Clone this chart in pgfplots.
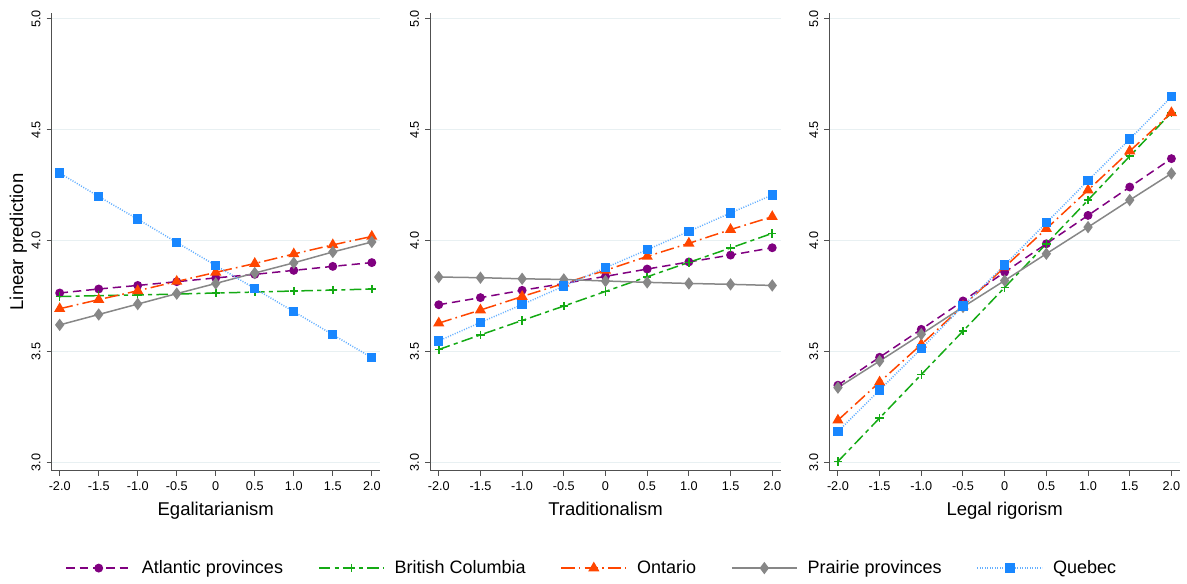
\documentclass[border=0pt]{standalone}
\usepackage{pgfplots}
\pgfplotsset{compat=1.18}
\usepackage{fontspec}
\setmainfont{Liberation Sans}
\definecolor{cAtl}{RGB}{128,0,128}
\definecolor{cBC}{RGB}{20,170,20}
\definecolor{cOn}{RGB}{255,70,0}
\definecolor{cPr}{RGB}{135,135,135}
\definecolor{cQu}{RGB}{25,135,255}
\definecolor{cQuL}{RGB}{100,175,255}
\definecolor{gridc}{RGB}{232,240,242}
\definecolor{axc}{RGB}{80,80,80}

\pgfplotstableread{
x atl bc on pr qu
-2.0 3.764 3.748 3.693 3.620 4.305
-1.5 3.782 3.752 3.734 3.667 4.199
-1.0 3.798 3.755 3.774 3.714 4.097
-0.5 3.815 3.759 3.816 3.761 3.992
0.0 3.832 3.764 3.857 3.807 3.888
0.5 3.848 3.768 3.897 3.854 3.784
1.0 3.866 3.773 3.940 3.900 3.680
1.5 3.884 3.777 3.981 3.949 3.576
2.0 3.901 3.782 4.019 3.994 3.472
}\egal
\pgfplotstableread{
x atl bc on pr qu
-2.0 3.711 3.509 3.628 3.836 3.548
-1.5 3.743 3.575 3.687 3.833 3.631
-1.0 3.776 3.640 3.748 3.828 3.712
-0.5 3.807 3.705 3.807 3.825 3.795
0.0 3.839 3.771 3.866 3.818 3.878
0.5 3.872 3.837 3.929 3.812 3.959
1.0 3.904 3.902 3.988 3.807 4.042
1.5 3.935 3.967 4.050 3.803 4.125
2.0 3.968 4.033 4.108 3.798 4.206
}\trad
\pgfplotstableread{
x atl bc on pr qu
-2.0 3.348 3.004 3.190 3.337 3.139
-1.5 3.474 3.200 3.362 3.457 3.326
-1.0 3.600 3.396 3.532 3.578 3.513
-0.5 3.728 3.592 3.705 3.701 3.705
0.0 3.858 3.789 3.881 3.820 3.890
0.5 3.986 3.986 4.054 3.941 4.081
1.0 4.114 4.183 4.228 4.061 4.271
1.5 4.242 4.381 4.404 4.183 4.458
2.0 4.370 4.577 4.577 4.303 4.649
}\legal

\pgfplotsset{
  panel/.style={
    scale only axis,
    height=274.8pt,
    xmin=-2.105, xmax=2.105,
    ymin=2.961, ymax=5.027,
    axis lines*=left,
    axis line style={color=axc, line width=0.6pt},
    tick style={color=axc, line width=0.6pt},
    tick align=outside,
    major tick length=3pt,
    xtick={-2,-1.5,-1,-0.5,0,0.5,1,1.5,2},
    xticklabels={-2.0,-1.5,-1.0,-0.5,0,0.5,1.0,1.5,2.0},
    ytick={3,3.5,4,4.5,5},
    yticklabels={3.0,3.5,4.0,4.5,5.0},
    ticklabel style={font=\fontsize{7.6}{9}\selectfont},
    yticklabel style={rotate=90, anchor=south},
    ymajorgrids,
    grid style={color=gridc, line width=0.6pt},
    label style={font=\fontsize{11.1}{13}\selectfont},
    legend image code/.code={\draw[mark repeat=2,mark phase=2,##1] plot coordinates {(0pt,0pt) (19.5pt,0pt) (39pt,0pt)};},
  },
  sAtl/.style={color=cAtl, line width=0.9pt, dash pattern=on 5pt off 3pt, mark=*, mark size=2.2pt, mark options={solid, fill=cAtl}},
  sBC/.style={color=cBC, line width=0.9pt, dash pattern=on 7pt off 2.5pt on 2.5pt off 2.5pt, mark=+, mark size=2.5pt, mark options={solid}},
  sOn/.style={color=cOn, line width=0.9pt, dash pattern=on 8pt off 2.5pt on 1pt off 2.5pt, mark=triangle*, mark size=3pt, mark options={solid, fill=cOn}},
  sPr/.style={color=cPr, line width=0.9pt, solid, mark=diamond*, mark size=3pt, mark options={solid, fill=cPr}},
  sQu/.style={color=cQuL, line width=0.9pt, dash pattern=on 0.6pt off 0.9pt, mark=square*, mark size=2.35pt, mark options={solid, fill=cQu, draw=cQu}},
}

\begin{document}
\begin{tikzpicture}
\path[use as bounding box] (0,0) rectangle (712.2pt,350.4pt);

\begin{axis}[panel, at={(30.9pt,67.8pt)}, anchor=south west, width=197.1pt,
  xlabel={Egalitarianism}, ylabel={Linear prediction}, ylabel shift=-4pt]
\addplot[sAtl] table[x=x,y=atl]{\egal};
\addplot[sBC] table[x=x,y=bc]{\egal};
\addplot[sOn] table[x=x,y=on]{\egal};
\addplot[sPr] table[x=x,y=pr]{\egal};
\addplot[sQu] table[x=x,y=qu]{\egal};
\end{axis}

\begin{axis}[panel, at={(258pt,67.8pt)}, anchor=south west, width=210.6pt,
  xlabel={Traditionalism},
  legend columns=5,
  legend style={at={(0.463,-0.212)}, anchor=center, draw=none, fill=none,
    font=\fontsize{10.8}{12}\selectfont,
    /tikz/every odd column/.append style={column sep=4pt},
    /tikz/every even column/.append style={column sep=19pt}},
  ]
\addplot[sAtl] table[x=x,y=atl]{\trad};
\addlegendentry{Atlantic provinces}
\addplot[sBC] table[x=x,y=bc]{\trad};
\addlegendentry{British Columbia}
\addplot[sOn] table[x=x,y=on]{\trad};
\addlegendentry{Ontario}
\addplot[sPr] table[x=x,y=pr]{\trad};
\addlegendentry{Prairie provinces}
\addplot[sQu] table[x=x,y=qu]{\trad};
\addlegendentry{Quebec}
\end{axis}

\begin{axis}[panel, at={(497.5pt,67.8pt)}, anchor=south west, width=210.6pt,
  xlabel={Legal rigorism}]
\addplot[sAtl] table[x=x,y=atl]{\legal};
\addplot[sBC] table[x=x,y=bc]{\legal};
\addplot[sOn] table[x=x,y=on]{\legal};
\addplot[sPr] table[x=x,y=pr]{\legal};
\addplot[sQu] table[x=x,y=qu]{\legal};
\end{axis}
\end{tikzpicture}
\end{document}
